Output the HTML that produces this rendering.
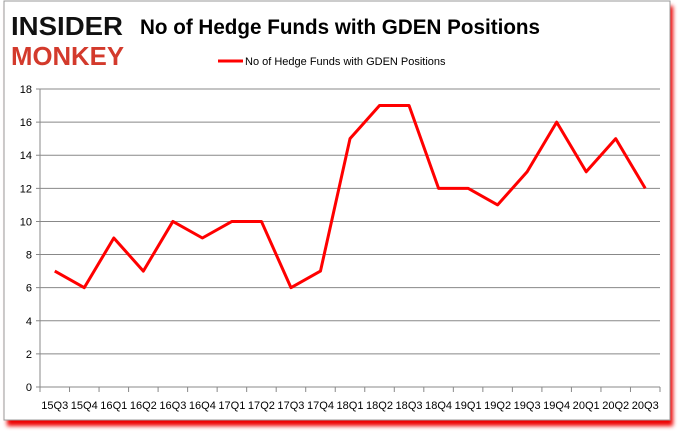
<!DOCTYPE html>
<html><head><meta charset="utf-8"><style>
body{margin:0;background:#fff;width:678px;height:431px;overflow:hidden;font-family:"Liberation Sans",sans-serif}
</style></head><body>
<svg width="678" height="431" xmlns="http://www.w3.org/2000/svg">
<defs><filter id="sh" x="-5%" y="-5%" width="110%" height="115%"><feGaussianBlur stdDeviation="2"/></filter></defs>
<rect x="7" y="6" width="666" height="420" fill="#e00" filter="url(#sh)"/>
<rect x="4" y="1" width="666" height="419" fill="#fff" stroke="#999"/>
<text x="11" y="35" font-size="26" font-weight="bold" fill="#111" textLength="112" lengthAdjust="spacingAndGlyphs">INSIDER</text>
<text x="11" y="65" font-size="26" font-weight="bold" fill="#d33a2c" textLength="113" lengthAdjust="spacingAndGlyphs">MONKEY</text>
<text x="340" y="34" font-size="21" font-weight="bold" text-anchor="middle" fill="#000" textLength="400" lengthAdjust="spacingAndGlyphs">No of Hedge Funds with GDEN Positions</text>
<line x1="218" y1="61" x2="243" y2="61" stroke="#f00" stroke-width="3"/>
<text x="245" y="65" font-size="11" fill="#000">No of Hedge Funds with GDEN Positions</text>
<g id="axes"></g>
<g id="plot"></g>
</svg>
<script>
const categories=["15Q3","15Q4","16Q1","16Q2","16Q3","16Q4","17Q1","17Q2","17Q3","17Q4","18Q1","18Q2","18Q3","18Q4","19Q1","19Q2","19Q3","19Q4","20Q1","20Q2","20Q3"];
const values=[7,6,9,7,10,9,10,10,6,7,15,17,17,12,12,11,13,16,13,15,12];
const yTicks=[0,2,4,6,8,10,12,14,16,18];
const NS="http://www.w3.org/2000/svg";
const x0=40,x1=660,yb=387,yt=89,ymax=18;
const cw=(x1-x0)/categories.length;
const xs=i=>x0+cw*(i+0.5);
const ys=v=>yb-(v/ymax)*(yb-yt);
const axes=document.getElementById('axes'),plot=document.getElementById('plot');
function mk(t,a,p){const e=document.createElementNS(NS,t);for(const k in a)e.setAttribute(k,a[k]);p.appendChild(e);return e;}
yTicks.forEach(v=>{
 const l=mk('line',{x1:x0-4,x2:x1,y1:ys(v),y2:ys(v),stroke:'#888','stroke-width':1},axes);
 
 
 const t=mk('text',{x:x0-8,y:ys(v)+4,'font-size':11,'text-anchor':'end',fill:'#000'},axes);
 t.textContent=v;
 
 
});
const ya=mk('line',{x1:x0,x2:x0,y1:yt,y2:yb,stroke:'#888'},axes);


for(let i=0;i<=categories.length;i++){
 const tk=mk('line',{x1:x0+cw*i,x2:x0+cw*i,y1:yb,y2:yb+5,stroke:'#888'},axes);
 
 
}
categories.forEach((c,i)=>{
 const t=mk('text',{x:xs(i),y:409,'font-size':11,'text-anchor':'middle',fill:'#000',textLength:27,lengthAdjust:'spacingAndGlyphs'},axes);
 t.textContent=c;
 
 
});
const pl=mk('polyline',{points:values.map((v,i)=>xs(i)+','+ys(v)).join(' '),fill:'none',stroke:'#f00','stroke-width':3,'stroke-linejoin':'round'},plot);


</script>
</body></html>
